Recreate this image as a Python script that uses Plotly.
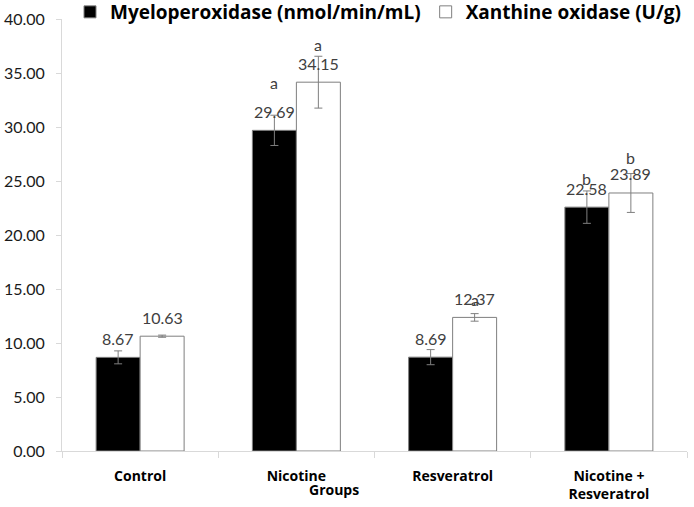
import plotly.graph_objects as go

categories = ["Control", "Nicotine", "Resveratrol", "Nicotine +<br>Resveratrol"]
mpo_values = [8.67, 29.69, 8.69, 22.58]
mpo_errors = [0.6, 1.4, 0.7, 1.5]
xo_values = [10.63, 34.15, 12.37, 23.89]
xo_errors = [0.1, 2.4, 0.35, 1.8]
mpo_letters = ["", "a", "", "b"]
xo_letters = ["", "a", "a", "b"]
series_names = ["Myeloperoxidase (nmol/min/mL)", "Xanthine oxidase (U/g)"]
x_title = "Groups"

# pixel offsets of the significance letters above the bar tops (layout only)
mpo_letter_shift = [0, 48, 0, 29]
xo_letter_shift = [0, 38, 18, 35]
VALUE_SHIFT = 19
BAR_SHIFT = 22

FONT = "Lato"
BOLD = "Open Sans"
label_font = dict(family=FONT, size=16, color="#404040")

fig = go.Figure()
fig.add_trace(go.Bar(
    name=series_names[0], x=categories, y=mpo_values,
    marker=dict(color="#000000", line=dict(color="#7f7f7f", width=1)),
    error_y=dict(type="data", array=mpo_errors, visible=True, color="#7f7f7f", thickness=1, width=4),
))
fig.add_trace(go.Bar(
    name=series_names[1], x=categories, y=xo_values,
    marker=dict(color="#ffffff", line=dict(color="#7f7f7f", width=1)),
    error_y=dict(type="data", array=xo_errors, visible=True, color="#7f7f7f", thickness=1, width=4),
))

for values, letters, shifts, xs in ((mpo_values, mpo_letters, mpo_letter_shift, -BAR_SHIFT),
                                    (xo_values, xo_letters, xo_letter_shift, BAR_SHIFT)):
    for cat, v, letter, sh in zip(categories, values, letters, shifts):
        fig.add_annotation(x=cat, y=v, text=f"{v:.2f}", showarrow=False, xshift=xs,
                           yshift=VALUE_SHIFT, font=label_font, yanchor="middle")
        if letter:
            fig.add_annotation(x=cat, y=v, text=letter, showarrow=False, xshift=xs, yshift=sh,
                               font=label_font, yanchor="middle")

fig.add_annotation(xref="paper", yref="paper", x=(334 - 62) / 625, y=-(489 - 451) / 432,
                   text=x_title, showarrow=False, xanchor="center", yanchor="middle",
                   font=dict(family=BOLD, size=14, color="#000000", weight="bold"))

fig.update_layout(
    width=694, height=507,
    margin=dict(l=62, r=7, t=19, b=56, autoexpand=False),
    paper_bgcolor="white", plot_bgcolor="white",
    barmode="group", bargap=0.437, bargroupgap=0,
    showlegend=True,
    legend=dict(orientation="h", x=(70 - 62) / 625, y=1 + 7 / 432, xanchor="left", yanchor="middle",
                font=dict(family=BOLD, size=19, color="#000000", weight="bold"),
                itemwidth=30, traceorder="normal", bgcolor="rgba(0,0,0,0)"),
    font=dict(family=FONT),
)
fig.update_yaxes(range=[0, 40], dtick=5, tickformat=".2f", showgrid=False,
                 showline=True, linecolor="#d9d9d9", linewidth=1,
                 ticks="outside", ticklen=5, tickcolor="#d9d9d9",
                 ticklabelstandoff=8, automargin=False,
                 tickfont=dict(family=FONT, size=16, color="#1a1a1a"), zeroline=False)
fig.update_xaxes(showgrid=False, showline=True, linecolor="#d9d9d9", linewidth=1,
                 ticks="outside", ticklen=6, tickcolor="#d9d9d9", tickson="boundaries",
                 ticklabelstandoff=12, automargin=False,
                 tickfont=dict(family=BOLD, size=14, color="#000000", weight="bold"))

fig.write_html("out.html", config={"displayModeBar": False},
               post_script="document.body.style.margin='0';")
